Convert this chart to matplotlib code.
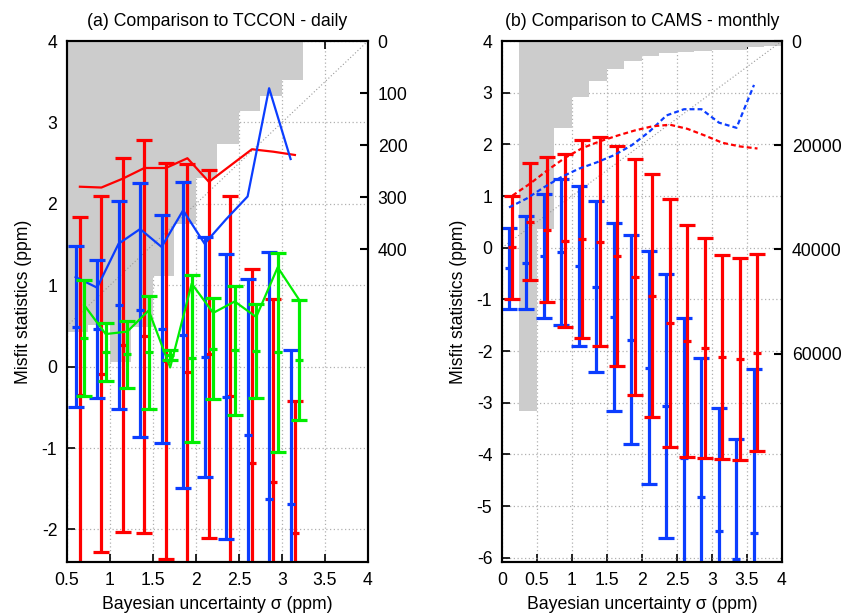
import matplotlib
matplotlib.use('Agg')
import matplotlib.pyplot as plt
from matplotlib.transforms import blended_transform_factory
from matplotlib.ticker import FuncFormatter

plt.rcParams['font.family'] = ['Liberation Sans', 'DejaVu Sans']
plt.rcParams['font.size'] = 12.7
plt.rcParams['axes.unicode_minus'] = False

# ---------------- Panel (a): TCCON daily ----------------
a_x_blue = [0.6, 0.85, 1.1, 1.35, 1.6, 1.85, 2.1, 2.35, 2.6, 2.85, 3.1]
a_x_red = [0.65, 0.9, 1.15, 1.4, 1.65, 1.9, 2.15, 2.4, 2.65, 2.9, 3.15]
a_x_green = [0.7, 0.95, 1.2, 1.45, 1.7, 1.95, 2.2, 2.45, 2.7, 2.95, 3.2]

a_blue_mean = [0.49, 0.46, 0.755, 0.70, 0.46, 0.39, 0.12, -0.37, -0.84, -1.62, -1.69]
a_blue_std = [0.99, 0.85, 1.275, 1.56, 1.40, 1.88, 1.47, 1.75, 1.92, 3.03, 1.89]
a_blue_line = [1.10, 0.97, 1.51, 1.69, 1.47, 1.92, 1.51, 1.81, 2.09, 3.42, 2.55]

a_red_mean = [-0.35, -0.09, 0.265, 0.375, 0.07, -0.07, 0.155, -0.36, -1.18, -1.42, -2.04]
a_red_std = [2.19, 2.19, 2.295, 2.415, 2.43, 2.56, 2.265, 2.45, 2.38, 2.25, 1.62]
a_red_line = [2.21, 2.20, 2.31, 2.44, 2.44, 2.56, 2.27, 2.47, 2.67, 2.64, 2.60]

a_green_mean = [0.35, 0.175, 0.15, 0.175, 0.14, 0.10, 0.22, 0.20, 0.19, 0.175, 0.08]
a_green_std = [0.71, 0.355, 0.41, 0.69, 0.06, 1.02, 0.62, 0.79, 0.58, 1.225, 0.74]
a_green_line = [0.755, 0.40, 0.43, 0.69, -0.01, 1.02, 0.66, 0.80, 0.61, 1.22, 0.82]

a_hist_edges = [0.5, 0.75, 1.0, 1.25, 1.5, 1.75, 2.0, 2.25, 2.5, 2.75, 3.0]
a_hist_counts = [558, 545, 616, 548, 451, 351, 263, 198, 134, 106, 75]

# ---------------- Panel (b): CAMS monthly ----------------
b_x_blue = [0.1, 0.35, 0.6, 0.85, 1.1, 1.35, 1.6, 1.85, 2.1, 2.35, 2.6, 2.85, 3.1, 3.35, 3.6]
b_x_red = [0.15, 0.4, 0.65, 0.9, 1.15, 1.4, 1.65, 1.9, 2.15, 2.4, 2.65, 2.9, 3.15, 3.4, 3.65]

b_blue_mean = [-0.40, -0.29, -0.155, -0.08, -0.35, -0.75, -1.335, -1.78, -2.32, -3.06,
               -4.06, -4.82, -5.48, -6.02, -5.51]
b_blue_std = [0.79, 0.90, 1.20, 1.41, 1.55, 1.65, 1.82, 2.02, 2.25, 2.56,
              2.70, 2.69, 2.38, 2.32, 3.17]
b_blue_line = [0.78, 0.95, 1.17, 1.37, 1.53, 1.65, 1.79, 1.98, 2.24, 2.56,
               2.68, 2.68, 2.42, 2.32, 3.15]

b_red_mean = [0.01, 0.50, 0.35, 0.135, 0.17, 0.12, -0.155, -0.56, -0.925, -1.45,
              -1.80, -1.94, -2.11, -2.15, -2.03]
b_red_std = [1.00, 1.13, 1.40, 1.675, 1.91, 2.02, 2.125, 2.28, 2.345, 2.40,
             2.245, 2.13, 1.975, 1.96, 1.91]
b_red_line = [1.01, 1.24, 1.50, 1.74, 1.93, 2.06, 2.17, 2.27, 2.35, 2.38,
              2.30, 2.17, 2.03, 1.96, 1.92]

b_hist_edges = [0.25, 0.5, 0.75, 1.0, 1.25, 1.5, 1.75, 2.0, 2.25, 2.5, 2.75, 3.0, 3.25, 3.5, 3.75]
b_hist_counts = [71000, 36000, 16700, 10700, 7650, 5380, 3800, 2820, 2370, 2050,
                 1870, 1800, 1800, 1150, 900]

BLUE = '#0b3dff'
RED = '#ff0000'
GREEN = '#00ee00'
GRAY = '#cccccc'

fig = plt.figure(figsize=(8.45, 6.15), dpi=100)
axL = fig.add_axes([67 / 845, 53 / 615, 301 / 845, 521 / 615])
axR = fig.add_axes([502 / 845, 53 / 615, 280 / 845, 521 / 615])


def fmt(v, pos):
    return '%g' % v


def setup(ax, xlim, ylim, xticks, yticks, clim, cticks, title):
    ax.set_xlim(xlim)
    ax.set_ylim(ylim)
    ax.set_xticks(xticks)
    ax.set_yticks(yticks)
    ax.xaxis.set_major_formatter(FuncFormatter(fmt))
    ax.yaxis.set_major_formatter(FuncFormatter(fmt))
    ax.set_axisbelow(True)
    ax.grid(True, color='#b0b0b0', linestyle=(0, (1, 2)), linewidth=0.9)
    ax.tick_params(direction='in', length=6, width=1.2, top=True, right=False, pad=7)
    for s in ax.spines.values():
        s.set_linewidth(1.5)
    ax2 = ax.twinx()
    ax2.set_ylim(clim)
    ax2.set_yticks(cticks)
    ax2.tick_params(direction='in', length=6, width=1.5, pad=7)
    for s in ax2.spines.values():
        s.set_linewidth(1.5)
    ax.set_title(title, fontsize=12.7, pad=11)
    ax.set_xlabel('Bayesian uncertainty σ (ppm)', labelpad=5)
    ax.set_ylabel('Misfit statistics (ppm)', labelpad=7)
    ax.axline((0, 0), slope=1, color='#999999', linestyle=(0, (1, 2)), linewidth=0.8, zorder=1.5)
    return ax2


def hist(ax, ax2, edges, counts):
    trans = blended_transform_factory(ax.transData, ax2.transData)
    ax.bar(edges, counts, width=0.25, align='edge', color=GRAY, linewidth=0,
           transform=trans, zorder=1)


def ebar(ax, x, mean, std, color, z):
    ax.errorbar(x, mean, yerr=std, fmt='none', ecolor=color, elinewidth=2.3,
                capsize=5.5, capthick=2.3, zorder=z)
    ax.plot(x, mean, linestyle='none', marker='_', markersize=5.5, mew=2.3,
            color=color, zorder=z)


# Panel (a)
axL2 = setup(axL, (0.5, 4), (-2.4, 4), [0.5, 1, 1.5, 2, 2.5, 3, 3.5, 4],
             [-2, -1, 0, 1, 2, 3, 4], (1000, 0), [0, 100, 200, 300, 400],
             '(a) Comparison to TCCON - daily')
hist(axL, axL2, a_hist_edges, a_hist_counts)
ebar(axL, a_x_red, a_red_mean, a_red_std, RED, 3)
axL.plot(a_x_red, a_red_line, color=RED, lw=1.6, zorder=3.1)
ebar(axL, a_x_blue, a_blue_mean, a_blue_std, BLUE, 3.2)
axL.plot(a_x_blue, a_blue_line, color=BLUE, lw=1.6, zorder=3.3)
ebar(axL, a_x_green, a_green_mean, a_green_std, GREEN, 3.4)
axL.plot(a_x_green, a_green_line, color=GREEN, lw=1.6, zorder=3.5)
axL.set_xlim(0.5, 4)
axL.set_ylim(-2.4, 4)

# Panel (b)
axR2 = setup(axR, (0, 4), (-6.08, 4), [0, 0.5, 1, 1.5, 2, 2.5, 3, 3.5, 4],
             [-6, -5, -4, -3, -2, -1, 0, 1, 2, 3, 4], (100000, 0),
             [0, 20000, 40000, 60000], '(b) Comparison to CAMS - monthly')
hist(axR, axR2, b_hist_edges, b_hist_counts)
ebar(axR, b_x_blue, b_blue_mean, b_blue_std, BLUE, 3)
ebar(axR, b_x_red, b_red_mean, b_red_std, RED, 3.2)
axR.plot(b_x_blue, b_blue_line, color=BLUE, lw=1.6, linestyle=(0, (2.2, 1.4)), zorder=3.4)
axR.plot(b_x_red, b_red_line, color=RED, lw=1.6, linestyle=(0, (2.2, 1.4)), zorder=3.5)
axR.set_xlim(0, 4)
axR.set_ylim(-6.08, 4)

fig.savefig('out.png', dpi=100)
